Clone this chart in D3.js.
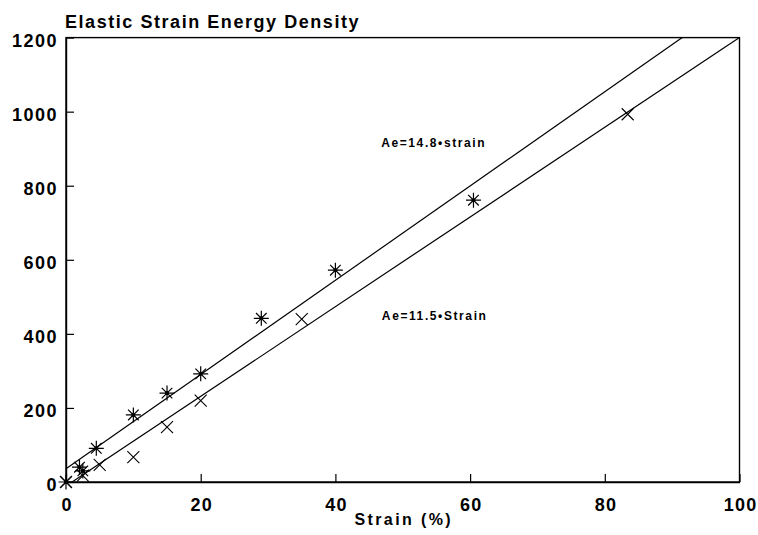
<!DOCTYPE html>
<html>
<head>
<meta charset="utf-8">
<script src="https://cdn.jsdelivr.net/npm/d3@7"></script>
<style>
  html, body { margin: 0; padding: 0; background: #fff; }
  svg { display: block; }
  text { font-family: "Liberation Sans", Arial, Helvetica, sans-serif; font-weight: bold; fill: #000; }
</style>
</head>
<body>
<svg id="chart" width="758" height="535"></svg>
<script>
// ---- data ----
const title = "Elastic Strain Energy Density";
const xLabel = "Strain (%)";
const xTicks = [0, 20, 40, 60, 80, 100];
const yTicks = [0, 200, 400, 600, 800, 1000, 1200];

// asterisk series (upper fit)
const starStrain = [0, 2.0, 2.5, 4.5, 10, 15, 20, 29, 40, 60.5];
const starEnergy = [0, 40, 30, 91, 181, 240, 292, 442, 572, 761];
// cross series (lower fit)
const crossStrain = [0, 2.5, 5, 10, 15, 20, 35, 83.4];
const crossEnergy = [0, 17, 46, 67, 148, 220, 440, 993];

// fitted lines (end points)
const upperFitX = [0, 91.5];
const upperFitY = [36, 1200];
const lowerFitX = [0.9, 100];
const lowerFitY = [0, 1200];

const upperLabel = "Ae=14.8\u2022strain";
const lowerLabel = "Ae=11.5\u2022Strain";
const upperLabelPos = [46.8, 905];
const lowerLabelPos = [46.9, 437];

// ---- drawing ----
const svg = d3.select("#chart");
const x = d3.scaleLinear().domain([0, 100]).range([66, 739.5]);
const y = d3.scaleLinear().domain([0, 1200]).range([482, 37.6]);

// frame
svg.append("rect")
  .attr("x", x(0)).attr("y", y(1200))
  .attr("width", x(100) - x(0)).attr("height", y(0) - y(1200))
  .attr("fill", "none").attr("stroke", "#000").attr("stroke-width", 1.4);

// axes (ticks pointing inward)
const xAxis = d3.axisBottom(x).tickValues(xTicks).tickFormat(d3.format("d"))
  .tickSizeInner(-8).tickSizeOuter(0).tickPadding(12);
const gx = svg.append("g").attr("transform", `translate(0,${y(0)})`).call(xAxis);
gx.select(".domain").attr("stroke-width", 1.4);
gx.selectAll(".tick line").attr("stroke-width", 1.2);
gx.selectAll(".tick text").attr("font-size", 18).attr("letter-spacing", 1.2)
  .attr("dy", null).attr("y", 29).attr("dx", 0.6).attr("fill", "#000");

const yAxis = d3.axisLeft(y).tickValues(yTicks).tickFormat(d3.format("d"))
  .tickSizeInner(-8).tickSizeOuter(0).tickPadding(0);
const gy = svg.append("g").attr("transform", `translate(${x(0)},0)`).call(yAxis);
gy.select(".domain").attr("stroke-width", 1.4);
gy.selectAll(".tick line").attr("stroke-width", 1.2);
gy.selectAll(".tick text").attr("font-size", 18).attr("letter-spacing", 1.5)
  .attr("x", -8).attr("dy", 8.5).attr("fill", "#000");

// fit lines
const line = d3.line().x(d => x(d[0])).y(d => y(d[1]));
svg.append("path").datum(d3.zip(upperFitX, upperFitY)).attr("d", line)
  .attr("fill", "none").attr("stroke", "#000").attr("stroke-width", 1.2);
svg.append("path").datum(d3.zip(lowerFitX, lowerFitY)).attr("d", line)
  .attr("fill", "none").attr("stroke", "#000").attr("stroke-width", 1.2);

// markers
function starPath(r) {
  let p = "";
  for (let i = 0; i < 4; i++) {
    const a = i * Math.PI / 4;
    const dx = r * Math.cos(a), dy = r * Math.sin(a);
    p += `M${-dx},${-dy}L${dx},${dy}`;
  }
  return p;
}
function crossPath(r) {
  return `M${-r},${-r}L${r},${r}M${-r},${r}L${r},${-r}`;
}
const stars = d3.zip(starStrain, starEnergy);
const crosses = d3.zip(crossStrain, crossEnergy);

svg.append("g").selectAll("path").data(stars).join("path")
  .attr("transform", d => `translate(${x(d[0])},${y(d[1])})`)
  .attr("d", starPath(7.5)).attr("stroke", "#000").attr("stroke-width", 1.2).attr("fill", "none");
svg.append("g").selectAll("circle").data(stars).join("circle")
  .attr("cx", d => x(d[0])).attr("cy", d => y(d[1])).attr("r", 2).attr("fill", "#000");

svg.append("g").selectAll("path").data(crosses).join("path")
  .attr("transform", d => `translate(${x(d[0])},${y(d[1])})`)
  .attr("d", crossPath(6)).attr("stroke", "#000").attr("stroke-width", 1.1).attr("fill", "none");

// labels
svg.append("text").attr("x", 65).attr("y", 28).attr("font-size", 18)
  .attr("letter-spacing", 1.55).text(title);
svg.append("text").attr("x", (x(0) + x(100)) / 2 + 1).attr("y", 525).attr("text-anchor", "middle")
  .attr("font-size", 16).attr("letter-spacing", 2.4).text(xLabel);
svg.append("text").attr("x", x(upperLabelPos[0])).attr("y", y(upperLabelPos[1])).attr("font-size", 12)
  .attr("letter-spacing", 1.6).text(upperLabel);
svg.append("text").attr("x", x(lowerLabelPos[0])).attr("y", y(lowerLabelPos[1])).attr("font-size", 12)
  .attr("letter-spacing", 1.6).text(lowerLabel);
</script>
</body>
</html>
